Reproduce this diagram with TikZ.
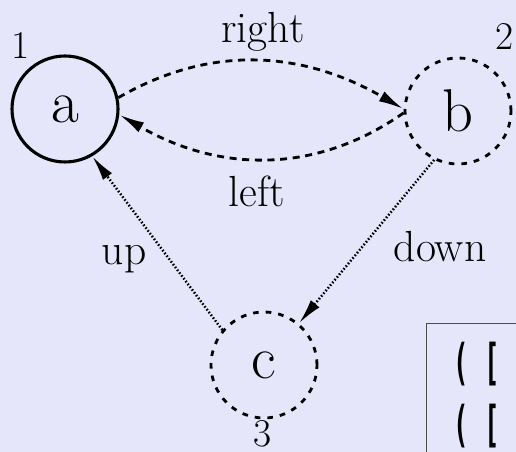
\documentclass[tikz,border=0pt]{standalone}
\usepackage{fontspec}
\newfontfamily\monoest[FakeStretch=0.52]{DejaVu Sans Mono}
\usetikzlibrary{arrows.meta}
\definecolor{fondo}{RGB}{230,230,250}

\begin{document}
\begin{tikzpicture}[
  >={Latex[length=18pt,width=8pt]},
  st/.style={circle, draw, minimum size=2.65cm, inner sep=0pt, line width=2.2pt,
    font=\fontsize{43}{48}\selectfont},
  sd/.style={st, line width=2pt, dash pattern=on 4pt off 5pt},
  nm/.style={inner sep=0pt, font=\fontsize{28}{32}\selectfont},
  lb/.style={inner sep=0pt, anchor=base, font=\fontsize{31}{36}\selectfont},
  tt/.style={inner sep=0pt, anchor=base west, font=\fontsize{35}{38}\selectfont\monoest\bfseries},
  dl/.style={->, line width=2pt, dash pattern=on 5pt off 4pt},
  dt/.style={->, line width=1.8pt, dash pattern=on 1.1pt off 1.4pt}]
  \useasboundingbox (0,0) rectangle (12.9,11.3);
  \fill[fondo] (0,0) rectangle (12.9,11.3);
  % estados
  \node[st] (a) at (1.625,8.575) {a};
  \node[sd] (b) at (11.45,8.525) {b};
  \node[sd] (c) at (6.6,2.175)   {c};
  \node[nm] (n1) at (0.525,10.15)  {1};
  \node[nm] (n2) at (12.625,10.375) {2};
  \node[nm] (n3) at (6.575,0.45)   {3};
  % etiquetas
  \node[lb] (rt) at (6.575,10.225) {right};
  \node[lb] (lf) at (6.425,6.125)  {left};
  \node[lb] (up) at (3.1,4.675)    {up};
  \node[lb] (dn) at (11.0,4.75)    {down};
  % flechas
  \draw[dl] (a.12) to[out=30,in=150] (b.178);
  \draw[dl] (b.182) to[out=215,in=-30] (a.-6);
  \draw[dt] (c.140) -- (a.-60);
  \draw[dt] (b.-116) -- (c.50);
  % caja (cortada por el borde)
  \begin{scope}
    \clip (0,0) rectangle (12.9,11.3);
    \node[draw=black!70, line width=0.8pt, anchor=north west, minimum width=3cm,
      minimum height=4cm] (bx) at (10.65,3.225) {};
  \end{scope}
  \node[tt] (l1) at (11.33,1.8)  {( [};
  \node[tt] (l2) at (11.33,0.25) {( [};
\end{tikzpicture}
\end{document}
